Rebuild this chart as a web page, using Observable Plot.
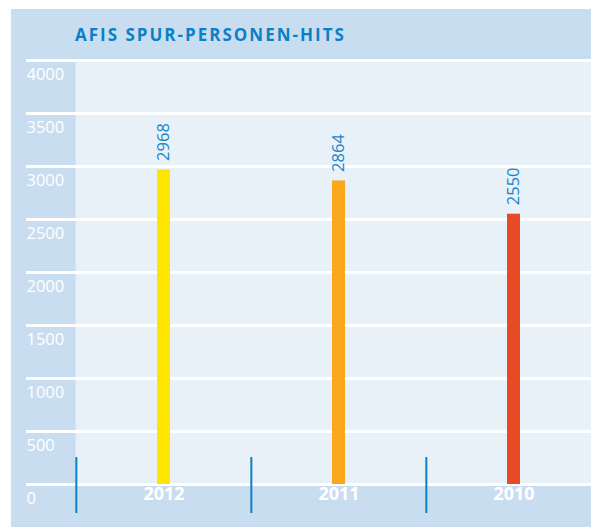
<!DOCTYPE html>
<html>
<head>
<meta charset="utf-8">
<script src="https://cdn.jsdelivr.net/npm/d3@7"></script>
<script src="https://cdn.jsdelivr.net/npm/@observablehq/plot@0.6"></script>
<style>
  html, body { margin: 0; padding: 0; background: #ffffff; }
  #wrap { position: relative; width: 591px; height: 527px; overflow: hidden; font-family: "Open Sans", sans-serif; }
  #panel { position: absolute; left: 11px; top: 9px; right: 0; bottom: 0; background: #c9ddf1; }
  #chart { position: absolute; left: 0; top: 0; }
  #title { position: absolute; left: 75px; top: 26px; line-height: 17px; font-size: 17px; font-weight: 700; color: #0a80c6; letter-spacing: 2px; white-space: nowrap; }
</style>
</head>
<body>
<div id="wrap">
  <div id="panel"></div>
  <div id="chart"></div>
  <div id="title">AFIS SPUR-PERSONEN-HITS</div>
</div>
<script>
const years = ["2012", "2011", "2010"];
const hits = [2968, 2864, 2550];
const barColors = ["#ffe500", "#f9a81e", "#e64b25"];
const yTicks = [0, 500, 1000, 1500, 2000, 2500, 3000, 3500, 4000];

const table = years.map((year, i) => ({year, hits: hits[i], color: barColors[i]}));

const chart = Plot.plot({
  width: 591,
  height: 527,
  marginLeft: 26,
  marginRight: 0,
  marginTop: 60,
  marginBottom: 43,
  x: {type: "band", domain: years, range: [75, 601], padding: 0, axis: null},
  y: {domain: [0, 4000], range: [484, 60], axis: null},
  style: {background: "transparent", fontFamily: "'Open Sans', sans-serif", overflow: "visible"},
  marks: [
    Plot.frame({fill: "#e8f0f8", stroke: null, insetLeft: 49}),
    Plot.ruleY(yTicks, {y: d => d, stroke: "#ffffff", strokeWidth: 3}),
    Plot.text(yTicks, {y: d => d, text: d => String(d), frameAnchor: "left", textAnchor: "start", dy: 14, fill: "#ffffff", fontSize: 16.5}),
    Plot.barY(table, {x: "year", y: "hits", fill: d => d.color, insetLeft: 81, insetRight: 81}),
    Plot.text(table, {x: "year", y: "hits", text: d => String(d.hits), rotate: -90, textAnchor: "start", dy: -9, fill: "#1a86c8", fontSize: 16.5}),
    Plot.text(table, {x: "year", text: "year", frameAnchor: "bottom", dy: 15, fill: "#ffffff", fontSize: 18, fontWeight: 700}),
    Plot.ruleX(years, {x: d => d, dx: -87.67, y1: 0, y2: 0, insetTop: -27, insetBottom: -29, stroke: "#0a80c6", strokeWidth: 2})
  ]
});
document.getElementById("chart").appendChild(chart);
</script>
</body>
</html>
